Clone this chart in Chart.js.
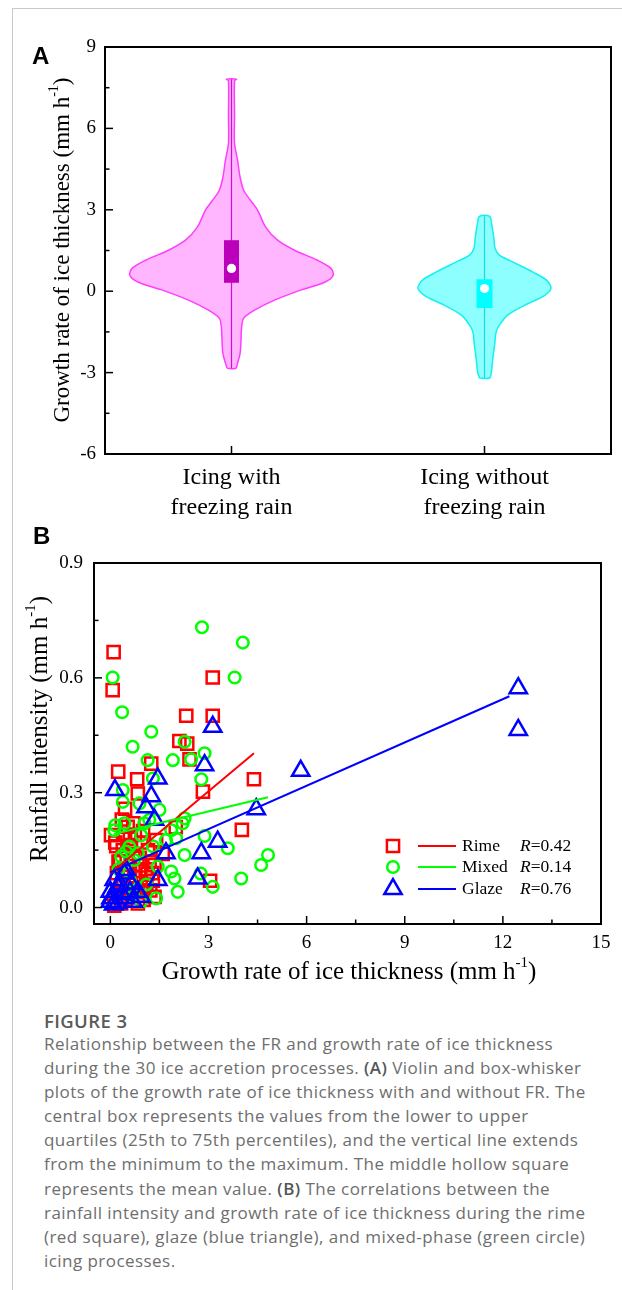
<!DOCTYPE html>
<html>
<head>
<meta charset="utf-8">
<script src="https://cdn.jsdelivr.net/npm/chart.js@4.4.0/dist/chart.umd.min.js"></script>
<style>
html,body{margin:0;padding:0;background:#fff;}
#page{position:relative;width:622px;height:1290px;overflow:hidden;background:#fff;}
.ft{position:absolute;left:12px;top:8px;width:610px;height:1px;background:#c9c9c9;}
.fl{position:absolute;left:12px;top:8px;width:1px;height:1282px;background:#c9c9c9;}
canvas{position:absolute;left:0;}
#cA{top:0;}
#cB{top:525px;}
.plabel{position:absolute;font-family:"Liberation Sans",Arial,sans-serif;font-weight:bold;font-size:24px;line-height:24px;color:#000;}
.fig{position:absolute;left:44px;top:1009px;font-family:"Open Sans",Lato,sans-serif;font-weight:600;font-size:18.5px;line-height:24px;color:#5a5a5a;letter-spacing:0.4px;}
.cap{position:absolute;left:44px;top:1032px;font-family:"Open Sans",Lato,sans-serif;font-size:17px;line-height:24.1px;color:#6e6e6e;white-space:nowrap;letter-spacing:0.45px;}
.cap b{color:#555;font-weight:600;}
</style>
</head>
<body>
<div id="page">
  <div class="ft"></div><div class="fl"></div>
  <canvas id="cA" width="622" height="525"></canvas>
  <canvas id="cB" width="622" height="475"></canvas>
  <div class="plabel" style="left:32px;top:44px;">A</div>
  <div class="plabel" style="left:33px;top:524px;">B</div>
  <div class="fig">FIGURE 3</div>
  <div class="cap">Relationship between the FR and growth rate of ice thickness<br>during the 30 ice accretion processes. <b>(A)</b> Violin and box-whisker<br>plots of the growth rate of ice thickness with and without FR. The<br>central box represents the values from the lower to upper<br>quartiles (25th to 75th percentiles), and the vertical line extends<br>from the minimum to the maximum. The middle hollow square<br>represents the mean value. <b>(B)</b> The correlations between the<br>rainfall intensity and growth rate of ice thickness during the rime<br>(red square), glaze (blue triangle), and mixed-phase (green circle)<br>icing processes.</div>
</div>
<script>
// ---------- Panel A data ----------
const groupLabels = [["Icing with", "freezing rain"], ["Icing without", "freezing rain"]];
const groupPositions = [1, 2];
const violinWithLevels = [7.81, 7.76, 6.5, 5.45, 4.83, 4.2, 3.72, 3.35, 2.99, 2.36, 1.88, 1.51, 1.14, 0.85, 0.59, 0.33, 0.04, -0.33, -0.7, -1.0, -1.33, -1.92, -2.29, -2.65, -2.84];
const violinWithHalfWidths = [0.020, 0.012, 0.012, 0.012, 0.024, 0.034, 0.048, 0.075, 0.103, 0.135, 0.182, 0.249, 0.340, 0.392, 0.402, 0.368, 0.273, 0.170, 0.091, 0.048, 0.040, 0.037, 0.034, 0.024, 0.017];
const violinWithoutLevels = [2.76, 2.43, 1.94, 1.57, 1.33, 1.08, 0.71, 0.41, 0.12, -0.15, -0.52, -0.88, -1.25, -1.5, -1.99, -2.48, -2.98, -3.2];
const violinWithoutHalfWidths = [0.020, 0.029, 0.037, 0.042, 0.059, 0.111, 0.190, 0.245, 0.263, 0.238, 0.158, 0.091, 0.059, 0.046, 0.040, 0.033, 0.027, 0.020];
const boxLower = [0.31, -0.62];
const boxUpper = [1.88, 0.44];
const meanValues = [0.84, 0.10];
const minValues = [-2.84, -3.2];
const maxValues = [7.81, 2.76];
const growthTicksA = [-6, -3, 0, 3, 6, 9];
const growthMinorTicksA = [-4.5, -1.5, 1.5, 4.5, 7.5];

// ---------- Panel B data ----------
const rimeGrowth = [0.10, 0.07, 3.13, 2.32, 3.13, 2.11, 2.35, 2.42, 0.24, 1.25, 0.82, 4.39, 2.83, 0.84, 0.45, 0.02, 4.02, 3.05, 0.53, 1.40, 0.63, 1.35, 1.14, 0.73, 1.04, 0.53, 1.35, 0.84, 0.33, 0.12, 0.90, 0.30, 0.60, 1.20, 0.40, 0.95, 0.20, 1.00, 0.70, 1.60, 2.00, 1.10, 1.30, 0.95, 0.22, 0.60, 0.15, 0.35,
                    0.50, 0.70, 0.88, 1.08, 0.42, 0.62, 0.80, 1.22, 0.48, 1.02, 0.18, 0.45, 1.15, 0.75, 0.35, 0.25, 0.55, 0.92, 0.65, 1.28, 0.38];
const rimeRain   = [0.667, 0.568, 0.601, 0.501, 0.501, 0.435, 0.428, 0.387, 0.355, 0.376, 0.335, 0.335, 0.303, 0.298, 0.258, 0.189, 0.203, 0.070, 0.211, 0.176, 0.163, 0.111, 0.089, 0.080, 0.054, 0.028, 0.028, 0.011, 0.011, 0.005, 0.130, 0.120, 0.100, 0.120, 0.060, 0.170, 0.090, 0.200, 0.220, 0.140, 0.210, 0.060, 0.070, 0.040, 0.040, 0.180, 0.170, 0.230,
                    0.130, 0.140, 0.095, 0.100, 0.100, 0.060, 0.050, 0.045, 0.020, 0.020, 0.160, 0.190, 0.150, 0.190, 0.040, 0.120, 0.080, 0.110, 0.030, 0.090, 0.150];
const mixedGrowth = [2.80, 4.05, 0.07, 3.80, 0.36, 1.25, 0.68, 2.27, 1.14, 1.91, 2.47, 2.88, 2.78, 1.30, 0.38, 0.38, 0.89, 1.50, 0.12, 0.43, 2.27, 2.21, 1.19, 1.86, 2.88, 3.59, 4.82, 4.61, 2.27, 0.94, 0.48, 2.01, 0.73, 1.04, 0.33, 1.45, 1.86, 1.96, 2.06, 1.40, 0.94, 4.00, 3.13, 2.76, 0.58, 0.84, 1.70, 0.15,
                     0.60, 1.10, 0.25, 0.70, 1.30];
const mixedRain   = [0.732, 0.692, 0.601, 0.601, 0.510, 0.459, 0.420, 0.433, 0.385, 0.385, 0.387, 0.403, 0.335, 0.337, 0.307, 0.276, 0.272, 0.255, 0.202, 0.220, 0.233, 0.220, 0.229, 0.202, 0.187, 0.155, 0.137, 0.111, 0.137, 0.189, 0.146, 0.181, 0.124, 0.220, 0.133, 0.107, 0.094, 0.076, 0.041, 0.024, 0.015, 0.076, 0.054, 0.089, 0.159, 0.142, 0.176, 0.215,
                     0.070, 0.060, 0.100, 0.030, 0.160];
const glazeGrowth = [12.47, 12.47, 5.82, 3.13, 2.88, 1.45, 0.14, 1.25, 1.09, 4.46, 1.35, 3.28, 1.70, 2.78, 1.45, 2.67, 0.43, 0.12, 0.63, 0.22, 0.00, 0.84, 0.02, 0.43, 0.94, 0.00, 0.22, 0.48, 0.30, 0.60, 0.10, 0.70, 0.35];
const glazeRain   = [0.573, 0.464, 0.357, 0.472, 0.372, 0.337, 0.307, 0.291, 0.262, 0.257, 0.229, 0.172, 0.142, 0.142, 0.072, 0.076, 0.089, 0.072, 0.063, 0.054, 0.041, 0.041, 0.024, 0.024, 0.028, 0.015, 0.011, 0.098, 0.060, 0.040, 0.008, 0.015, 0.035];
const rimeFitGrowth = [0.02, 4.39];
const rimeFitRain = [0.090, 0.403];
const mixedFitGrowth = [0.10, 4.82];
const mixedFitRain = [0.192, 0.288];
const glazeFitGrowth = [0.00, 12.20];
const glazeFitRain = [0.092, 0.552];
const seriesNames = ["Rime", "Mixed", "Glaze"];
const seriesR = ["0.42", "0.14", "0.76"];
const growthTicksB = [0, 3, 6, 9, 12, 15];
const growthMinorTicksB = [1.5, 4.5, 7.5, 10.5, 13.5];
const rainTicks = [0, 0.3, 0.6, 0.9];
const rainMinorTicks = [0.15, 0.45, 0.75];

// ---------- helpers ----------
const SERIF = "'Liberation Serif','Times New Roman',serif";
const zip = (xs, ys) => xs.map((x, i) => ({x: x, y: ys[i]}));
function violinOutline(center, levels, half) {
  const pts = [];
  for (let i = levels.length - 1; i >= 0; i--) pts.push({x: center - half[i], y: levels[i]});
  for (let i = 0; i < levels.length; i++) pts.push({x: center + half[i], y: levels[i]});
  pts.push({x: pts[0].x, y: pts[0].y});
  return pts;
}
function frameTicksPlugin(cfg) {
  return {
    id: 'frameTicks',
    afterDatasetsDraw(chart) {
      const {ctx, chartArea: a, scales} = chart;
      ctx.save();
      ctx.strokeStyle = '#000';
      ctx.lineWidth = 1.5;
      const yt = (vals, len) => vals.forEach(v => {
        const p = scales.y.getPixelForValue(v);
        ctx.beginPath(); ctx.moveTo(a.left, p); ctx.lineTo(a.left + len, p); ctx.stroke();
      });
      const xt = (vals, len) => vals.forEach(v => {
        const p = scales.x.getPixelForValue(v);
        ctx.beginPath(); ctx.moveTo(p, a.bottom); ctx.lineTo(p, a.bottom - len); ctx.stroke();
      });
      yt(cfg.yMajor, 8); yt(cfg.yMinor, 4.5);
      xt(cfg.xMajor, 8); xt(cfg.xMinor, 4.5);
      ctx.lineWidth = 2;
      ctx.strokeRect(a.left, a.top, a.right - a.left, a.bottom - a.top);
      ctx.restore();
    }
  };
}
function drawTitle(ctx, t) {
  ctx.save();
  ctx.translate(t.x, t.y);
  if (t.rotate) ctx.rotate(-Math.PI / 2);
  ctx.fillStyle = '#000';
  ctx.textBaseline = 'middle';
  ctx.textAlign = 'left';
  const main = `${t.size}px ${SERIF}`;
  const sup = `${Math.round(t.size * 0.6)}px ${SERIF}`;
  ctx.font = main; const w1 = ctx.measureText(t.main).width; const w3 = ctx.measureText(t.tail).width;
  ctx.font = sup; const w2 = ctx.measureText(t.sup).width;
  let x = -(w1 + w2 + w3) / 2;
  ctx.font = main; ctx.fillText(t.main, x, 0); x += w1;
  ctx.font = sup; ctx.fillText(t.sup, x, -t.size * 0.36); x += w2;
  ctx.font = main; ctx.fillText(t.tail, x, 0);
  ctx.restore();
}
function titlesPlugin(list) {
  return { id: 'titles', afterDraw(chart) { list.forEach(t => drawTitle(chart.ctx, t)); } };
}
const noGrid = {display: false, drawTicks: false};
const noBorder = {display: false};

// ---------- Chart A ----------
const magentaFill = '#FFB6FF', magentaLine = '#FF3DFF', magentaDark = '#BB00BB', magentaMid = '#CC11CC';
const cyanFill = '#8DFFFF', cyanLine = '#14F0F0', cyanDark = '#00FFFF', cyanMid = '#10DDDD';
new Chart(document.getElementById('cA'), {
  type: 'scatter',
  data: {
    datasets: [
      {data: violinOutline(groupPositions[0], violinWithLevels, violinWithHalfWidths), showLine: true, fill: 'shape', backgroundColor: magentaFill, borderColor: magentaLine, borderWidth: 1.5, pointRadius: 0, tension: 0.3, order: 10},
      {data: violinOutline(groupPositions[1], violinWithoutLevels, violinWithoutHalfWidths), showLine: true, fill: 'shape', backgroundColor: cyanFill, borderColor: cyanLine, borderWidth: 1.5, pointRadius: 0, tension: 0.3, order: 9},
      {data: [{x: groupPositions[0], y: minValues[0]}, {x: groupPositions[0], y: maxValues[0]}], showLine: true, borderColor: magentaMid, borderWidth: 1.2, pointRadius: 0, order: 6},
      {data: [{x: groupPositions[1], y: minValues[1]}, {x: groupPositions[1], y: maxValues[1]}], showLine: true, borderColor: cyanMid, borderWidth: 1.2, pointRadius: 0, order: 5},
      {data: [{x: groupPositions[0], y: boxLower[0]}, {x: groupPositions[0], y: boxUpper[0]}], showLine: true, borderColor: magentaDark, borderWidth: 15, borderCapStyle: 'butt', pointRadius: 0, order: 4},
      {data: [{x: groupPositions[1], y: boxLower[1]}, {x: groupPositions[1], y: boxUpper[1]}], showLine: true, borderColor: cyanDark, borderWidth: 16, borderCapStyle: 'butt', pointRadius: 0, order: 3},
      {data: zip(groupPositions, meanValues), showLine: false, pointRadius: 4.6, backgroundColor: '#fff', borderWidth: 0, pointBorderWidth: 0, order: 1}
    ]
  },
  options: {
    responsive: false, animation: false, devicePixelRatio: 1,
    layout: {padding: {top: 47, right: 11, left: 0, bottom: 0}},
    plugins: {legend: {display: false}, tooltip: {enabled: false}},
    scales: {
      x: {
        type: 'linear', min: 0.5, max: 2.5,
        afterBuildTicks: s => { s.ticks = groupPositions.map(v => ({value: v})); },
        afterFit: s => { s.height = 71; },
        grid: noGrid, border: noBorder,
        ticks: {autoSkip: false, maxRotation: 0, padding: 9, color: '#000', font: {family: SERIF, size: 24, lineHeight: 1.25},
          callback: v => groupLabels[groupPositions.indexOf(v)]}
      },
      y: {
        type: 'linear', min: -6, max: 9,
        afterBuildTicks: s => { s.ticks = growthTicksA.map(v => ({value: v})); },
        afterFit: s => { s.width = 105; },
        grid: noGrid, border: noBorder,
        ticks: {padding: 9, color: '#000', font: {family: SERIF, size: 19}, callback: v => String(v)}
      }
    }
  },
  plugins: [
    frameTicksPlugin({xMajor: groupPositions, xMinor: [], yMajor: growthTicksA, yMinor: growthMinorTicksA}),
    titlesPlugin([{x: 63, y: 250, rotate: true, size: 23, main: 'Growth rate of ice thickness (mm h', sup: '-1', tail: ')'}])
  ]
});

// ---------- Chart B ----------
const RED = '#FF0000', GREEN = '#00FF00', BLUE = '#0000FF';
const markerStyles = [
  {pointStyle: 'rect', radius: 8.6, color: RED},
  {pointStyle: 'circle', radius: 5.8, color: GREEN},
  {pointStyle: 'triangle', radius: 10, color: BLUE}
];
function markerSet(xs, ys, m, order) {
  return {data: zip(xs, ys), pointStyle: m.pointStyle, pointRadius: m.radius, pointBorderWidth: 2.5, pointBorderColor: m.color, pointBackgroundColor: 'rgba(0,0,0,0)', borderColor: m.color, showLine: false, order: order};
}
function fitSet(xs, ys, color, order) {
  return {data: zip(xs, ys), showLine: true, borderColor: color, borderWidth: 2, pointRadius: 0, order: order};
}
const legendPlugin = {
  id: 'customLegend',
  afterDatasetsDraw(chart) {
    const {ctx, chartArea: a} = chart;
    const rows = [283, 304, 326];
    ctx.save();
    rows.forEach((dy, i) => {
      const y = a.top + dy;
      const m = markerStyles[i];
      ctx.strokeStyle = m.color; ctx.fillStyle = 'rgba(0,0,0,0)'; ctx.lineWidth = 2.5;
      Chart.helpers.drawPoint(ctx, {pointStyle: m.pointStyle, radius: m.radius, rotation: 0, borderWidth: 2.5}, a.left + 299, y);
      ctx.lineWidth = 2;
      ctx.beginPath(); ctx.moveTo(a.left + 324, y); ctx.lineTo(a.left + 362, y); ctx.stroke();
      ctx.fillStyle = '#000'; ctx.textBaseline = 'middle'; ctx.textAlign = 'left';
      ctx.font = `17.5px ${SERIF}`;
      ctx.fillText(seriesNames[i], a.left + 368, y);
      ctx.font = `italic 17.5px ${SERIF}`;
      const rx = a.left + 426;
      ctx.fillText('R', rx, y);
      const rw = ctx.measureText('R').width;
      ctx.font = `17.5px ${SERIF}`;
      ctx.fillText('=' + seriesR[i], rx + rw, y);
    });
    ctx.restore();
  }
};
new Chart(document.getElementById('cB'), {
  type: 'scatter',
  data: {
    datasets: [
      markerSet(rimeGrowth, rimeRain, markerStyles[0], 9),
      markerSet(mixedGrowth, mixedRain, markerStyles[1], 8),
      markerSet(glazeGrowth, glazeRain, markerStyles[2], 7),
      fitSet(rimeFitGrowth, rimeFitRain, RED, 3),
      fitSet(mixedFitGrowth, mixedFitRain, GREEN, 2),
      fitSet(glazeFitGrowth, glazeFitRain, BLUE, 1)
    ]
  },
  options: {
    responsive: false, animation: false, devicePixelRatio: 1,
    layout: {padding: {top: 38, right: 21, left: 0, bottom: 0}},
    plugins: {legend: {display: false}, tooltip: {enabled: false}},
    scales: {
      x: {
        type: 'linear', min: -0.5, max: 15,
        afterBuildTicks: s => { s.ticks = growthTicksB.map(v => ({value: v})); },
        afterFit: s => { s.height = 76; },
        grid: noGrid, border: noBorder,
        ticks: {autoSkip: false, maxRotation: 0, padding: 8, color: '#000', font: {family: SERIF, size: 19}, callback: v => String(v)}
      },
      y: {
        type: 'linear', min: -0.043, max: 0.9,
        afterBuildTicks: s => { s.ticks = rainTicks.map(v => ({value: v})); },
        afterFit: s => { s.width = 94; },
        grid: noGrid, border: noBorder,
        ticks: {padding: 11, color: '#000', font: {family: SERIF, size: 19}, callback: v => v.toFixed(1)}
      }
    }
  },
  plugins: [
    frameTicksPlugin({xMajor: growthTicksB, xMinor: growthMinorTicksB, yMajor: rainTicks, yMinor: rainMinorTicks}),
    legendPlugin,
    titlesPlugin([
      {x: 40, y: 204, rotate: true, size: 25, main: 'Rainfall intensity (mm h', sup: '-1', tail: ')'},
      {x: 349, y: 447, rotate: false, size: 25, main: 'Growth rate of ice thickness (mm h', sup: '-1', tail: ')'}
    ])
  ]
});
</script>
</body>
</html>
